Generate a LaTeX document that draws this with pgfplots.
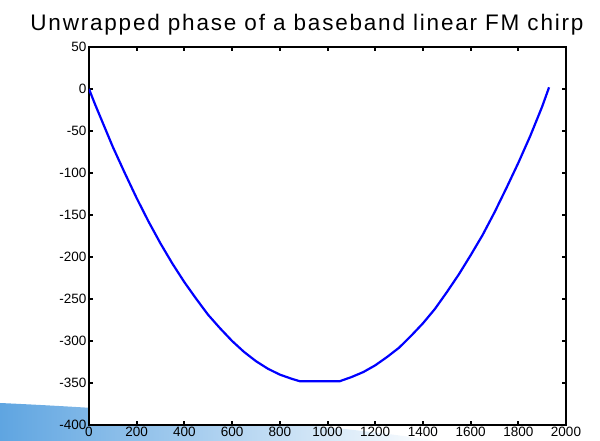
\documentclass[border=0pt]{standalone}
\usepackage{pgfplots}
\pgfplotsset{compat=1.18}
\usepackage{fontspec}
\setmainfont{Liberation Sans}
\newfontfamily\titlefont[LetterSpace=8]{Liberation Sans}
\definecolor{sw}{RGB}{95,165,225}
\definecolor{mblue}{RGB}{0,0,255}
\begin{document}
\begin{tikzpicture}
\shade[left color=sw, right color=white] (-89pt,-16pt) -- (-89pt,22pt) .. controls (0pt,18pt) and (200pt,6pt) .. (351pt,-16pt) -- cycle;
\begin{axis}[
  at={(0,0)}, anchor=south west,
  scale only axis, width=477pt, height=378pt,
  xmin=0, xmax=2000, ymin=-400, ymax=50,
  xtick={0,200,...,2000}, ytick={-400,-350,...,50},
  tick align=inside, major tick length=4pt,
  axis line style={line width=2.4pt, black},
  tick style={line width=2pt, black},
  ticklabel style={font=\fontsize{13.5}{14}\selectfont},
  /pgf/number format/assume math mode=true,
  /pgf/number format/1000 sep={},
  scaled ticks=false,
  axis background/.style={fill=white},
  xticklabel style={yshift=1pt},
  yticklabel style={xshift=1pt},
]
\addplot[mblue, line width=2.2pt, line join=round] coordinates {
(0,0) (25,-18) (50,-35) (100,-69) (150,-100) (200,-130) (250,-158)
(300,-184) (350,-208) (400,-230) (450,-250) (500,-269) (550,-285)
(600,-300) (650,-313) (700,-324) (750,-333) (800,-340) (850,-345)
(885,-348) (1050,-348) (1100,-343) (1150,-337) (1200,-329)
(1250,-319) (1300,-308) (1350,-294) (1400,-279) (1450,-262)
(1500,-242) (1550,-221) (1600,-198) (1650,-174) (1700,-147)
(1750,-118) (1800,-88) (1850,-56) (1900,-21) (1929,2)
};
\end{axis}
\node[font=\titlefont\fontsize{22.5}{22}\selectfont, anchor=base] at (218pt,394pt) {Unwrapped phase of a baseband linear FM chirp};
\pgfresetboundingbox
\path (-89pt,-16pt) rectangle (511pt,425pt);
\end{tikzpicture}
\end{document}
